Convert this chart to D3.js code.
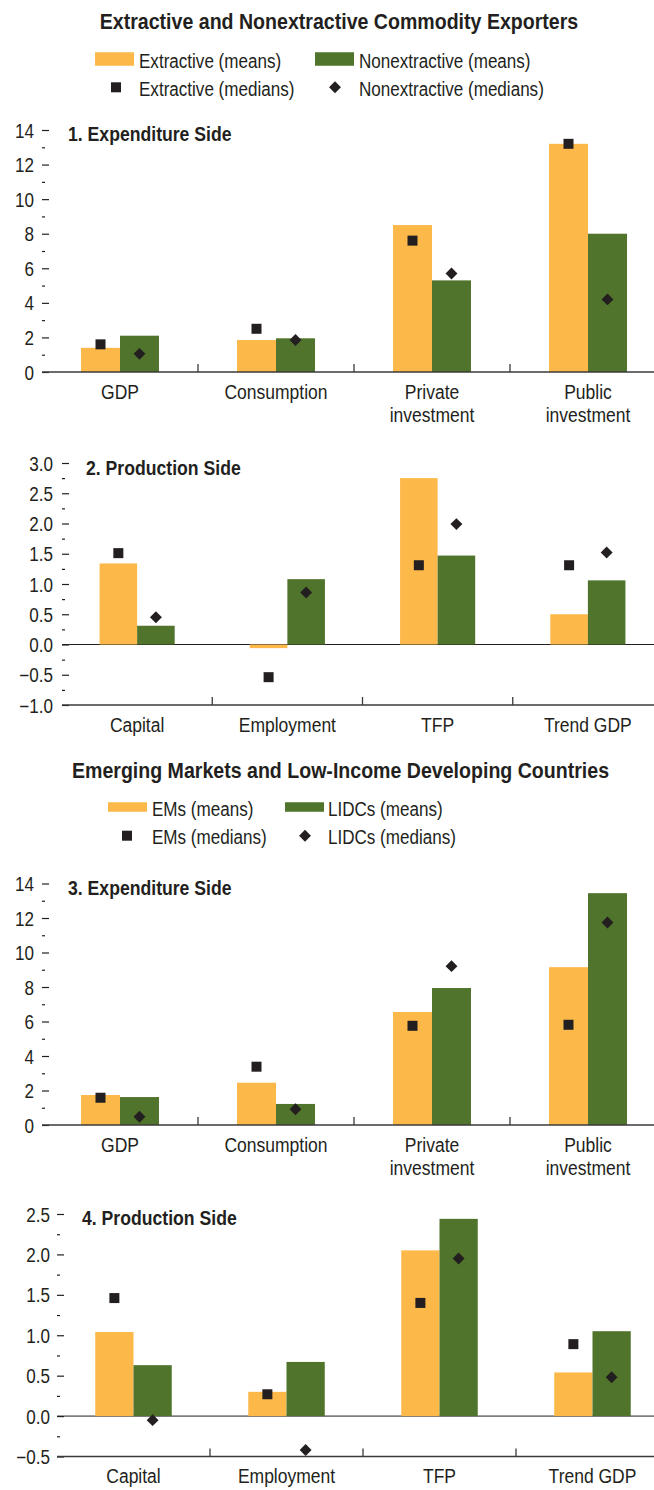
<!DOCTYPE html>
<html>
<head>
<meta charset="utf-8">
<script src="https://cdn.jsdelivr.net/npm/d3@7"></script>
<style>
  html, body { margin: 0; padding: 0; background: #fff; }
  svg text { font-family: "Liberation Sans", Arial, sans-serif; fill: #231f20; }
</style>
</head>
<body>
<svg id="chart" width="654" height="1490"></svg>
<script>
// ---------- DATA ----------
const catsExp = [["GDP"], ["Consumption"], ["Private", "investment"], ["Public", "investment"]];
const catsProd = [["Capital"], ["Employment"], ["TFP"], ["Trend GDP"]];

const ticksExp = [0, 2, 4, 6, 8, 10, 12, 14];
const ticksProd2 = [-1.0, -0.5, 0.0, 0.5, 1.0, 1.5, 2.0, 2.5, 3.0];
const ticksProd4 = [-0.5, 0.0, 0.5, 1.0, 1.5, 2.0, 2.5];

// Panel 1
const extractiveMeansExp     = [1.40, 1.85, 8.50, 13.20];
const nonextractiveMeansExp  = [2.10, 1.95, 5.30, 8.00];
const extractiveMediansExp   = [1.60, 2.50, 7.60, 13.20];
const nonextractiveMediansExp= [1.05, 1.85, 5.70, 4.20];
// Panel 2
const extractiveMeansProd     = [1.34, -0.06, 2.75, 0.50];
const nonextractiveMeansProd  = [0.31, 1.08, 1.47, 1.06];
const extractiveMediansProd   = [1.51, -0.54, 1.31, 1.31];
const nonextractiveMediansProd= [0.45, 0.86, 1.99, 1.52];
// Panel 3
const emMeansExp     = [1.74, 2.45, 6.55, 9.15];
const lidcMeansExp   = [1.62, 1.22, 7.94, 13.44];
const emMediansExp   = [1.58, 3.38, 5.75, 5.81];
const lidcMediansExp = [0.48, 0.91, 9.21, 11.74];
// Panel 4
const emMeansProd     = [1.04, 0.30, 2.05, 0.54];
const lidcMeansProd   = [0.63, 0.67, 2.44, 1.05];
const emMediansProd   = [1.46, 0.27, 1.40, 0.89];
const lidcMediansProd = [-0.05, -0.42, 1.95, 0.48];

const YELLOW = "#fcb94a";
const GREEN = "#50742b";
const DARK = "#231f20";
const SX = 0.875;      // horizontal condensing of regular text
const SXB = 0.89;      // horizontal condensing of bold text
const DIAMOND = 90;    // diamond symbol area

const svg = d3.select("#chart");

// condensed text helper
function ctext(parent, x, y, str, size, opts = {}) {
  return parent.append("text")
    .attr("transform", `translate(${x},${y}) scale(${opts.sx || SX},1)`)
    .attr("text-anchor", opts.anchor || "start")
    .attr("font-weight", opts.bold ? "bold" : "normal")
    .attr("font-size", size)
    .text(str);
}

// ---------- Section titles & legends ----------
function section(cfg) {
  ctext(svg, cfg.titleX, cfg.titleY, cfg.title, 22, { anchor: "middle", bold: true, sx: SXB });
  const lg = svg.append("g");
  cfg.meansLabels.forEach((lab, i) => {
    lg.append("rect").attr("x", cfg.swX[i]).attr("y", cfg.row1 - cfg.swH / 2)
      .attr("width", 39).attr("height", cfg.swH)
      .attr("fill", i === 0 ? YELLOW : GREEN);
    ctext(lg, cfg.txtX[i], cfg.row1 + 9, lab, 19.5);
  });
  cfg.medLabels.forEach((lab, i) => {
    const cx = cfg.mkX[i];
    if (i === 0) {
      lg.append("rect").attr("x", cx - 5).attr("y", cfg.row2 - 5).attr("width", 10).attr("height", 10).attr("fill", DARK);
    } else {
      lg.append("path").attr("transform", `translate(${cx},${cfg.row2})`)
        .attr("d", d3.symbol(d3.symbolDiamond2, DIAMOND)()).attr("fill", DARK);
    }
    ctext(lg, cfg.txtX[i], cfg.row2 + 8.5, lab, 19.5);
  });
}

section({
  title: "Extractive and Nonextractive Commodity Exporters", titleX: 339, titleY: 28.5,
  meansLabels: ["Extractive (means)", "Nonextractive (means)"],
  medLabels: ["Extractive (medians)", "Nonextractive (medians)"],
  swX: [95, 315], swH: 13.5, txtX: [139, 359], mkX: [116, 335], row1: 59, row2: 87.3
});
section({
  title: "Emerging Markets and Low-Income Developing Countries", titleX: 340.5, titleY: 777.8,
  meansLabels: ["EMs (means)", "LIDCs (means)"],
  medLabels: ["EMs (medians)", "LIDCs (medians)"],
  swX: [108, 285], swH: 9.5, txtX: [152, 328], mkX: [127, 305], row1: 807, row2: 835.7
});

// ---------- Panels ----------
function panel(cfg) {
  const g = svg.append("g");
  const y = d3.scaleLinear().domain(cfg.domain).range(cfg.yRange);
  const x = d3.scaleBand().domain(d3.range(cfg.cats.length)).range(cfg.xRange).padding(0);
  const bw = x.bandwidth() * 0.25;

  // y ticks (major) with labels
  const fmt = cfg.fmt;
  const yAxis = d3.axisLeft(y).tickValues(cfg.ticks).tickSize(-7).tickPadding(8)
    .tickFormat(d => fmt(d).replace("-", "\u2212"));
  const ya = g.append("g").attr("transform", `translate(${cfg.xRange[0]},0)`).call(yAxis);
  ya.select(".domain").remove();
  ya.selectAll(".tick line").attr("stroke", DARK).attr("stroke-width", 1.2);
  ya.selectAll(".tick text")
    .attr("font-size", 19.5).attr("fill", DARK)
    .attr("font-family", '"Liberation Sans", Arial, sans-serif')
    .attr("x", -cfg.labelGap / SX).attr("dy", "0.36em")
    .attr("transform", `scale(${SX},1)`);

  // minor ticks
  const step = cfg.ticks[1] - cfg.ticks[0];
  const minor = cfg.ticks.slice(0, -1).map(t => t + step / 2);
  const ym = g.append("g").attr("transform", `translate(${cfg.xRange[0]},0)`)
    .call(d3.axisLeft(y).tickValues(minor).tickSize(-3).tickFormat(""));
  ym.select(".domain").remove();
  ym.selectAll(".tick line").attr("stroke", DARK).attr("stroke-width", 1.2);

  // zero line (if domain includes negatives)
  if (cfg.domain[0] < 0) {
    g.append("line").attr("x1", cfg.xRange[0]).attr("x2", 654)
      .attr("y1", y(0)).attr("y2", y(0)).attr("stroke", DARK).attr("stroke-width", 1);
  }

  // bars
  [cfg.means[0], cfg.means[1]].forEach((vals, s) => {
    g.selectAll(null).data(vals).join("rect")
      .attr("x", (d, i) => x(i) + x.bandwidth() / 2 - bw + s * bw)
      .attr("width", bw)
      .attr("y", d => Math.min(y(d), y(0)))
      .attr("height", d => Math.abs(y(d) - y(0)))
      .attr("fill", s === 0 ? YELLOW : GREEN);
  });

  // medians
  g.selectAll(null).data(cfg.medians[0]).join("rect")
    .attr("x", (d, i) => x(i) + x.bandwidth() / 2 - bw / 2 - 5)
    .attr("y", d => y(d) - 5).attr("width", 10).attr("height", 10).attr("fill", DARK);
  g.selectAll(null).data(cfg.medians[1]).join("path")
    .attr("transform", (d, i) => `translate(${x(i) + x.bandwidth() / 2 + bw / 2},${y(d)})`)
    .attr("d", d3.symbol(d3.symbolDiamond2, DIAMOND)()).attr("fill", DARK);

  // x axis baseline
  const yb = y(cfg.domain[0]);
  g.append("line").attr("x1", cfg.xRange[0]).attr("x2", 654).attr("y1", yb).attr("y2", yb)
    .attr("stroke", "#3a3a3a").attr("stroke-width", 1.6);
  // category separators
  const seps = d3.range(1, cfg.cats.length).map(i => x(i));
  g.selectAll(null).data(seps).join("line")
    .attr("x1", d => d).attr("x2", d => d).attr("y1", yb).attr("y2", yb - 8)
    .attr("stroke", "#3a3a3a").attr("stroke-width", 1.3);

  // category labels
  const lab = g.selectAll(null).data(cfg.cats).join("text")
    .attr("text-anchor", "middle").attr("font-size", 20)
    .attr("transform", (d, i) => `translate(${x(i) + x.bandwidth() / 2},${yb + 26.5}) scale(${SX},1)`);
  lab.selectAll("tspan").data(d => d).join("tspan")
    .attr("x", 0).attr("dy", (d, j) => j === 0 ? 0 : 24).text(d => d);

  // panel title
  ctext(g, cfg.titleX, cfg.titleY, cfg.title, 20.5, { bold: true, sx: 0.86 });
}

const fmt0 = d3.format("d");
const fmt1 = d3.format(".1f");

panel({
  title: "1. Expenditure Side", titleX: 68, titleY: 141,
  cats: catsExp, domain: [0, 14], yRange: [372, 130], xRange: [42, 666], labelGap: 8,
  ticks: ticksExp, fmt: fmt0,
  means: [extractiveMeansExp, nonextractiveMeansExp],
  medians: [extractiveMediansExp, nonextractiveMediansExp]
});
panel({
  title: "2. Production Side", titleX: 86, titleY: 475,
  cats: catsProd, domain: [-1, 3], yRange: [705, 463], xRange: [62, 663], labelGap: 9,
  ticks: ticksProd2, fmt: fmt1,
  means: [extractiveMeansProd, nonextractiveMeansProd],
  medians: [extractiveMediansProd, nonextractiveMediansProd]
});
panel({
  title: "3. Expenditure Side", titleX: 68, titleY: 895,
  cats: catsExp, domain: [0, 14], yRange: [1125, 883.5], xRange: [42, 666], labelGap: 8,
  ticks: ticksExp, fmt: fmt0,
  means: [emMeansExp, lidcMeansExp],
  medians: [emMediansExp, lidcMediansExp]
});
panel({
  title: "4. Production Side", titleX: 82, titleY: 1225,
  cats: catsProd, domain: [-0.5, 2.5], yRange: [1456.5, 1214], xRange: [57, 669], labelGap: 7,
  ticks: ticksProd4, fmt: fmt1,
  means: [emMeansProd, lidcMeansProd],
  medians: [emMediansProd, lidcMediansProd]
});
</script>
</body>
</html>
